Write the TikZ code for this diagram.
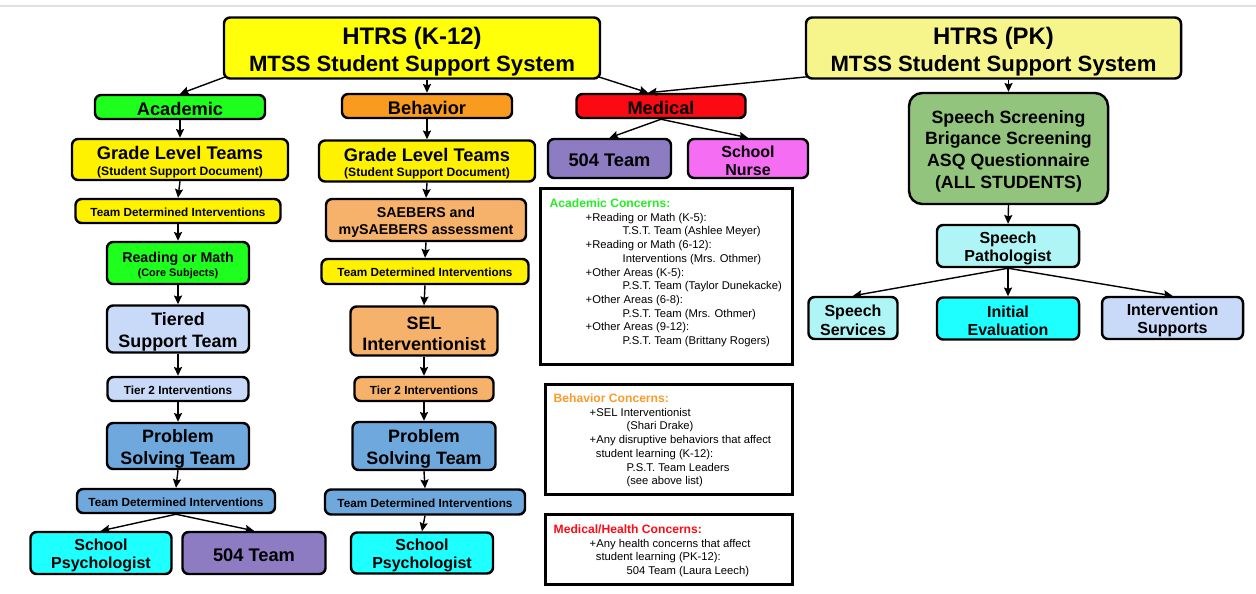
\documentclass[tikz,border=0pt]{standalone}
\usepackage{fontspec}
\setmainfont{Liberation Sans}
\usetikzlibrary{arrows.meta}

\definecolor{k12yellow}{HTML}{FFFF0A}
\definecolor{pkyellow}{HTML}{F5F58C}
\definecolor{acgreen}{HTML}{1EFF1E}
\definecolor{behorange}{HTML}{F99B1E}
\definecolor{medred}{HTML}{FB0A13}
\definecolor{teampurple}{HTML}{8E7CC3}
\definecolor{nursepink}{HTML}{F56DF3}
\definecolor{lightblue}{HTML}{C9DAF8}
\definecolor{midblue}{HTML}{6FA8DC}
\definecolor{psychcyan}{HTML}{1EFFFF}
\definecolor{lightorange}{HTML}{F6B26B}
\definecolor{screengreen}{HTML}{93C47D}
\definecolor{palecyan}{HTML}{B0F5F5}
\definecolor{conacad}{HTML}{22EE22}
\definecolor{conbeh}{HTML}{F99B2B}
\definecolor{conmed}{HTML}{FF0A14}

\newcommand{\ftitle}{\fontsize{12.6}{15}\selectfont\bfseries}
\newcommand{\fhead}{\fontsize{13.6}{15}\selectfont}
\newcommand{\fcat}{\fontsize{10.4}{12}\selectfont\bfseries}
\newcommand{\fsub}{\fontsize{6.9}{8}\selectfont\bfseries}
\newcommand{\ftdi}{\fontsize{6.7}{8}\selectfont\bfseries}
\newcommand{\fmid}{\fontsize{8.1}{8}\selectfont\bfseries}
\newcommand{\fbig}{\fontsize{10.2}{12.4}\selectfont\bfseries}
\newcommand{\fname}{\fontsize{9.1}{10.4}\selectfont\bfseries}
\newcommand{\fscr}{\fontsize{10.1}{12.4}\selectfont\bfseries}
\newcommand{\fcon}{\fontsize{6.4}{7.8}\selectfont}
\newcommand{\fconhead}{\fontsize{6.9}{7.8}\selectfont\bfseries}
\newcommand{\topstrut}{\rule{0pt}{1.02em}}

\tikzset{
    box/.style = {draw, rounded corners = 3.5pt, line width = 1.4pt, align = center, inner sep = 0pt,
        execute at begin node = \rule{0pt}{0.92em}},
    wh/.style 2 args = {minimum width = #1*0.02cm, minimum height = #2*0.02cm}
}

\begin{document}
\begin{tikzpicture}[
        x = 0.02cm,
        y = -0.02cm,
        > = {Stealth[length = 5pt, width = 4.6pt, inset = 0.8pt]},
        line width = 0.8pt
    ]
    \useasboundingbox (0,0) rectangle (1256,593);
    \draw[black!12, line width = 1.2pt] (0,6) -- (1256,6);

    \node[box, fill = k12yellow, wh = {376}{61}, font = \ftitle] (k12) at (412,48) {\rule{0pt}{14pt}{\fhead HTRS (K-12)}\\MTSS Student Support System};
    \node[box, fill = pkyellow, wh = {375}{61}, font = \ftitle] (pk) at (993.5,48) {\rule{0pt}{14pt}{\fhead HTRS (PK)}\\MTSS Student Support System};

    \node[box, fill = acgreen, wh = {170}{24}, font = \fcat] (acad) at (180,107) {Academic};
    \node[box, fill = yellow, wh = {216}{41}, font = \fcat] (glA) at (180,159.5) {\topstrut Grade Level Teams\\[-3pt]{\fsub (Student Support Document)}};
    \node[box, fill = yellow, wh = {205}{24}, font = \ftdi] (tdiA) at (178,211) {Team Determined Interventions};
    \node[box, fill = acgreen, wh = {142}{42}, font = \fmid] (rdm) at (178,263) {\topstrut Reading or Math\\{\fontsize{6.2}{8}\selectfont (Core Subjects)}};
    \node[box, fill = lightblue, wh = {142}{47}, font = \fbig] (tst) at (178,329) {\topstrut Tiered\\Support Team};
    \node[box, fill = lightblue, wh = {141}{24}, font = \ftdi] (t2A) at (178,389) {Tier 2 Interventions};
    \node[box, fill = midblue, wh = {142}{46}, font = \fbig] (pstA) at (178,446) {\topstrut Problem\\Solving Team};
    \node[box, fill = midblue, wh = {198}{24}, font = \ftdi] (tdiA2) at (176,501) {Team Determined Interventions};
    \node[box, fill = psychcyan, wh = {141}{42}, font = \fname] (spA) at (101,553) {\topstrut School\\Psychologist};
    \node[box, fill = teampurple, wh = {143}{42}, font = \fcat] (t504A) at (254,553) {504 Team};

    \node[box, fill = behorange, wh = {170}{24}, font = \fcat] (beh) at (427,106) {Behavior};
    \node[box, fill = yellow, wh = {216}{41}, font = \fcat] (glB) at (427,161) {\topstrut Grade Level Teams\\[-3pt]{\fsub (Student Support Document)}};
    \node[box, fill = lightorange, wh = {200}{42}, font = \fmid] (saeb) at (426,220) {\topstrut SAEBERS and\\[1.5pt]mySAEBERS assessment};
    \node[box, fill = yellow, wh = {207}{25}, font = \ftdi] (tdiB) at (425,271.5) {Team Determined Interventions};
    \node[box, fill = lightorange, wh = {147}{49}, font = \fbig] (sel) at (424,331) {\topstrut SEL\\Interventionist};
    \node[box, fill = lightorange, wh = {139}{24}, font = \ftdi] (t2B) at (424,389) {Tier 2 Interventions};
    \node[box, fill = midblue, wh = {143}{48}, font = \fbig] (pstB) at (424,446) {\topstrut Problem\\Solving Team};
    \node[box, fill = midblue, wh = {200}{25}, font = \ftdi] (tdiB2) at (425,502) {Team Determined Interventions};
    \node[box, fill = psychcyan, wh = {142}{41}, font = \fname] (spB) at (422,553) {\topstrut School\\Psychologist};

    \node[box, fill = medred, wh = {169}{24}, font = \fcat] (med) at (661,106) {Medical};
    \node[box, fill = teampurple, wh = {123}{39}, font = \fcat] (m504) at (609.5,158.5) {504 Team};
    \node[box, fill = nursepink, wh = {120}{39}, font = \fname] (nurse) at (748,158.5) {\topstrut School\\Nurse};

    \node[box, rounded corners = 7.5pt, fill = screengreen, wh = {199}{111}, font = \fscr] (scr) at (1008.5,148.5) {\topstrut Speech Screening\\Brigance Screening\\ASQ Questionnaire\\(ALL STUDENTS)};
    \node[box, fill = palecyan, wh = {142}{42}, font = \fname] (spath) at (1008,246) {\topstrut Speech\\Pathologist};
    \node[box, fill = palecyan, wh = {89}{42}, font = \fname] (ssrv) at (853,318) {\topstrut Speech\\Services};
    \node[box, fill = psychcyan, wh = {142}{42}, font = \fname] (ieval) at (1008,318.5) {\topstrut Initial\\Evaluation};
    \node[box, fill = lightblue, wh = {141}{42}, font = \fname] (isup) at (1172.5,318) {\topstrut Intervention\\Supports};

    \draw[line width = 1.7pt] (540,188) rectangle (792,364);
    \draw[line width = 1.7pt] (545,384) rectangle (792,494);
    \draw[line width = 1.7pt] (545,514) rectangle (792,584);
    \node[anchor = north west, inner sep = 0pt, align = left, font = \fcon] (acon) at (549,198) {{\fconhead\color{conacad}Academic Concerns:}\\
        \hspace*{20.5pt}+Reading or Math (K-5):\\
        \hspace*{41.5pt}T.S.T. Team (Ashlee Meyer)\\
        \hspace*{20.5pt}+Reading or Math (6-12):\\
        \hspace*{41.5pt}Interventions (Mrs. Othmer)\\
        \hspace*{20.5pt}+Other Areas (K-5):\\
        \hspace*{41.5pt}P.S.T. Team (Taylor Dunekacke)\\
        \hspace*{20.5pt}+Other Areas (6-8):\\
        \hspace*{41.5pt}P.S.T. Team (Mrs. Othmer)\\
        \hspace*{20.5pt}+Other Areas (9-12):\\
        \hspace*{41.5pt}P.S.T. Team (Brittany Rogers)};
    \node[anchor = north west, inner sep = 0pt, align = left, font = \fcon] (bcon) at (553,393) {{\fconhead\color{conbeh}Behavior Concerns:}\\
        \hspace*{20.5pt}+SEL Interventionist\\
        \hspace*{41.5pt}(Shari Drake)\\
        \hspace*{20.5pt}+Any disruptive behaviors that affect\\
        \hspace*{24pt}student learning (K-12):\\
        \hspace*{41.5pt}P.S.T. Team Leaders\\
        \hspace*{41.5pt}(see above list)};
    \node[anchor = north west, inner sep = 0pt, align = left, font = \fcon] (mcon) at (553,524) {{\fconhead\color{conmed}Medical/Health Concerns:}\\
        \hspace*{20.5pt}+Any health concerns that affect\\
        \hspace*{24pt}student learning (PK-12):\\
        \hspace*{41.5pt}504 Team (Laura Leech)};

    \draw[->] ([shift = {(3,-3)}]k12.south west) -- (acad.north);
    \draw[->] (k12.south -| beh.north) -- (beh.north);
    \draw[->] ([shift = {(-3,-3)}]k12.south east) -- ([xshift = -0.26cm]med.north);
    \draw[->] ([shift = {(3,-3)}]pk.south west) -- ([xshift = -0.26cm]med.north);
    \draw[->] (pk.south -| scr.north) -- (scr.north);
    \draw[->] (med.south) -- (m504.north);
    \draw[->] (med.south) -- (nurse.north);
    \draw[->] (acad.south) -- (glA.north);
    \draw[->] (glA.south) -- (tdiA.north);
    \draw[->] (tdiA.south) -- (rdm.north);
    \draw[->] (rdm.south) -- (tst.north);
    \draw[->] (tst.south) -- (t2A.north);
    \draw[->] (t2A.south) -- (pstA.north);
    \draw[->] (pstA.south) -- (tdiA2.north);
    \draw[->] (tdiA2.south) -- (spA.north);
    \draw[->] (tdiA2.south) -- (t504A.north);
    \draw[->] (beh.south) -- (glB.north);
    \draw[->] (glB.south) -- (saeb.north);
    \draw[->] (saeb.south) -- (tdiB.north);
    \draw[->] (tdiB.south) -- (sel.north);
    \draw[->] (sel.south) -- (t2B.north);
    \draw[->] (t2B.south) -- (pstB.north);
    \draw[->] (pstB.south) -- (tdiB2.north);
    \draw[->] (tdiB2.south) -- (spB.north);
    \draw[->] (scr.south) -- (spath.north);
    \draw[->] (spath.south) -- (ssrv.north);
    \draw[->] (spath.south) -- (ieval.north);
    \draw[->] (spath.south) -- (isup.north);
\end{tikzpicture}
\end{document}
